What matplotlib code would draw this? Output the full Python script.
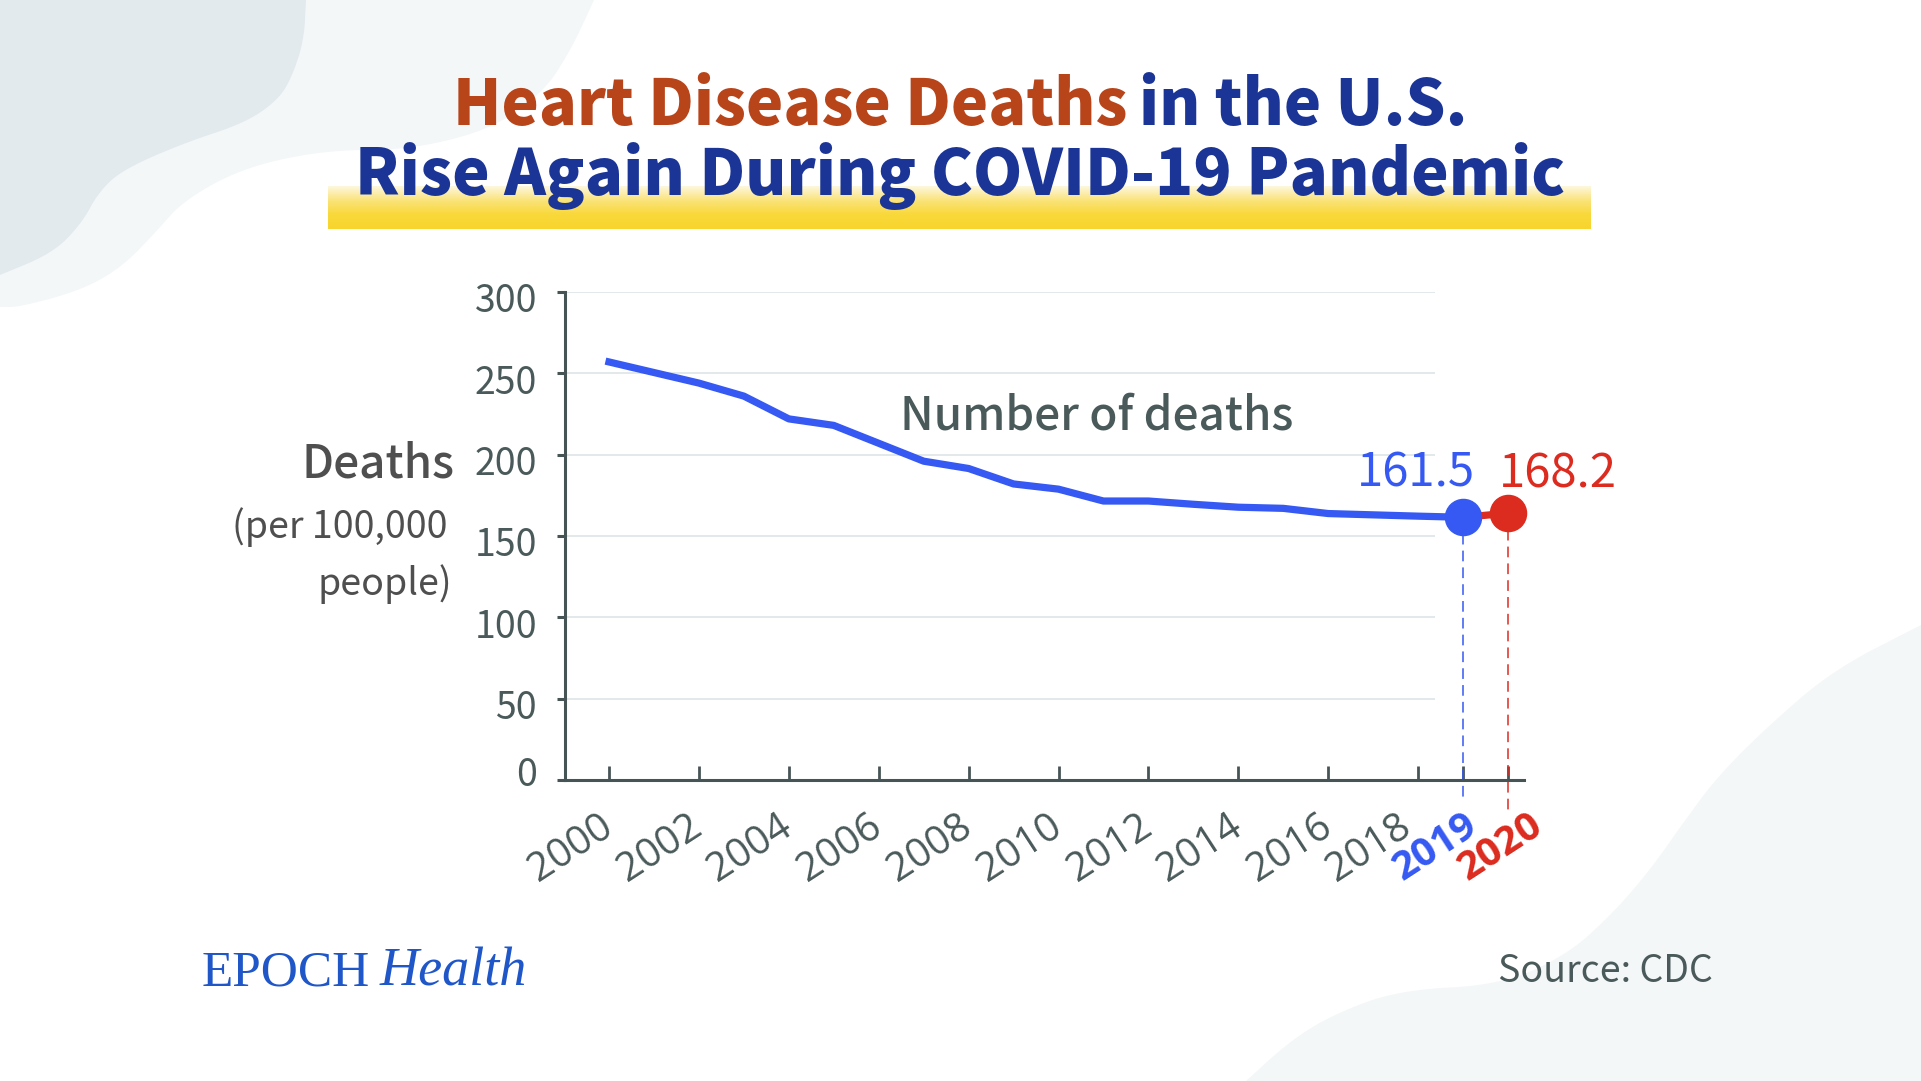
import numpy as np
import matplotlib
matplotlib.use("Agg")
import matplotlib.pyplot as plt
import matplotlib.transforms as mtransforms
from matplotlib.patches import Polygon
from matplotlib.colors import LinearSegmentedColormap

# data
years = list(range(2000, 2021))
deaths = [257, 250.5, 244, 236, 222, 218, 207, 196, 191.5, 182, 178.8,
          171.5, 171.5, 169.5, 167.7, 167, 163.8, 163, 162.2, 161.5, 164]
tick_years = [2000, 2002, 2004, 2006, 2008, 2010, 2012, 2014, 2016, 2018, 2019, 2020]
y_ticks = [0, 50, 100, 150, 200, 250, 300]
value_labels = ["161.5", "168.2"]

title_part1 = "Heart Disease Deaths"
title_part2 = "in the U.S."
title_line2 = "Rise Again During COVID-19 Pandemic"

BLUE = "#3559f2"
RED = "#dc2b1f"
ORANGE = "#b8441a"
NAVY = "#1b3597"
GRAY = "#4a5959"
AXIS = "#465456"
CJK = "Noto Sans CJK JP"

W, H = 1921, 1081
fig = plt.figure(figsize=(W / 100, H / 100), dpi=100)
fig.patch.set_facecolor("white")

# background layer in pixel coordinates (y down)
bg = fig.add_axes([0, 0, 1, 1])
bg.axis("off")


def chaikin(pts, it=4):
    pts = np.asarray(pts, float)
    for _ in range(it):
        q = 0.75 * pts[:-1] + 0.25 * pts[1:]
        r = 0.25 * pts[:-1] + 0.75 * pts[1:]
        new = np.empty((2 * len(q), 2))
        new[0::2] = q
        new[1::2] = r
        pts = np.vstack([pts[0], new, pts[-1]])
    return pts


light_curve = [(594, 0), (571, 50), (543, 93), (490, 130), (408, 150), (327, 150),
               (245, 167), (184, 200), (155, 233), (122, 267), (82, 290), (20, 307), (0, 307)]
dark_curve = [(306, 0), (304, 40), (292, 77), (278, 100), (245, 123), (184, 143),
              (122, 170), (98, 193), (82, 223), (53, 253), (0, 275)]
br_curve = [(1921, 625), (1833, 670), (1767, 727), (1717, 777), (1683, 823), (1650, 870),
            (1613, 913), (1567, 955), (1500, 985), (1400, 990), (1336, 1013), (1291, 1040),
            (1246, 1081)]

bg.add_patch(Polygon(np.vstack([[0, 0], chaikin(light_curve)]), closed=True,
                     facecolor="#f4f7f8", edgecolor="none"))
bg.add_patch(Polygon(np.vstack([[0, 0], chaikin(dark_curve)]), closed=True,
                     facecolor="#e2eaee", edgecolor="none"))
bg.add_patch(Polygon(np.vstack([chaikin(br_curve), [1921, 1081]]), closed=True,
                     facecolor="#f4f7f8", edgecolor="none"))

# yellow highlight band under the second title line
ycmap = LinearSegmentedColormap.from_list("band", ["#fdf8dc", "#fae37a", "#f9d83a", "#f8d52c"])
grad = np.linspace(0, 1, 100)[:, None]
bg.imshow(grad, cmap=ycmap, extent=(328, 1591, 229, 186), aspect="auto", zorder=1)
bg.set_xlim(0, W)
bg.set_ylim(H, 0)

renderer = fig.canvas.get_renderer()


def width_of(t):
    return t.get_window_extent(renderer).width


# title, line 1 (two colours), centred at x=960
fs = 54
t1 = bg.text(0, 125, title_part1, fontsize=fs, family=CJK, weight="heavy", color=ORANGE,
             ha="left", va="baseline", zorder=3)
t2 = bg.text(0, 125, title_part2, fontsize=fs, family=CJK, weight="heavy", color=NAVY,
             ha="left", va="baseline", zorder=3)
gap = 0.18 * fs * 100 / 72
total = width_of(t1) + width_of(t2) + gap
scale = 1014 / total
fs1 = fs * scale
t1.set_fontsize(fs1)
t2.set_fontsize(fs1)
gap = 0.18 * fs1 * 100 / 72
w1 = width_of(t1)
total = w1 + width_of(t2) + gap
x0 = 960 - total / 2
t1.set_x(x0)
t2.set_x(x0 + w1 + gap)

t3 = bg.text(960, 195, title_line2, fontsize=fs, family=CJK, weight="heavy", color=NAVY,
             ha="center", va="baseline", zorder=3)
t3.set_fontsize(fs * 1211 / width_of(t3))

# y-axis title
bg.text(455, 478, "Deaths", fontsize=33, family=CJK, weight="medium", color="#4f4f4f",
        ha="right", va="baseline")
bg.text(447, 538, "(per 100,000", fontsize=27, family=CJK, color="#4f4f4f",
        ha="right", va="baseline")
bg.text(452, 595, "people)", fontsize=27, family=CJK, color="#4f4f4f",
        ha="right", va="baseline")

# footer
bg.text(1498, 982, "Source: CDC", fontsize=27, family=CJK, color=GRAY,
        ha="left", va="baseline")
bg.text(202, 985, "EPOCH", fontsize=37, family="Liberation Serif", color="#1f56c8",
        ha="left", va="baseline")
bg.text(380, 985, "Health", fontsize=39, family="Liberation Serif", style="italic",
        color="#1f56c8", ha="left", va="baseline")

# chart axes
ax = fig.add_axes([565 / W, 1 - 780 / H, (1524 - 565) / W, (780 - 292) / H])
ax.patch.set_alpha(0)
px_year = 44.95
x_first = 609
xlo = 2000 - (x_first - 565) / px_year
xhi = 2000 + (1524 - x_first) / px_year
ax.set_xlim(xlo, xhi)
ax.set_ylim(0, 300)
for s in ["top", "right"]:
    ax.spines[s].set_visible(False)
for s in ["left", "bottom"]:
    ax.spines[s].set_color(AXIS)
    ax.spines[s].set_linewidth(2.2)

ax.set_yticks(y_ticks)
ax.tick_params(axis="y", direction="out", length=6, width=2.2, color=AXIS, labelleft=False)
ax.set_xticks(tick_years)
ax.tick_params(axis="x", direction="in", length=10, width=2.0, color=AXIS, labelbottom=False)

grid_end = 2000 + (1435 - x_first) / px_year
ax.hlines(y_ticks[1:], xlo, grid_end, color="#e1e7e8", lw=1.3, zorder=0)

# y tick labels
ylab_tr = mtransforms.blended_transform_factory(ax.transAxes, ax.transData)
for v in y_ticks:
    dy = 4 if v == 0 else -10
    tr = ylab_tr + mtransforms.ScaledTranslation(-28 / 100, dy / 100, fig.dpi_scale_trans)
    ax.text(0, v, str(v), transform=tr, ha="right", va="center", fontsize=27,
            family=CJK, color=GRAY)

# x tick labels
label_dx = {2018: -22, 2019: 0, 2020: 20}
for yr in tick_years:
    dx = label_dx.get(yr, -11)
    tr = ax.transData + mtransforms.ScaledTranslation(dx / 100, -26 / 100, fig.dpi_scale_trans)
    if yr == 2019:
        c, w = BLUE, "bold"
    elif yr == 2020:
        c, w = RED, "bold"
    else:
        c, w = GRAY, "normal"
    ax.text(yr, 0, str(yr), transform=tr, rotation=33, rotation_mode="anchor",
            ha="right", va="top", fontsize=29, family="Open Sans", color=c, weight=w)

# series
ax.plot(years[:-1], deaths[:-1], color=BLUE, lw=5.2, solid_joinstyle="round", zorder=3)
ax.plot(years[-2:], deaths[-2:], color=RED, lw=5.2, zorder=3)
ax.plot([years[-2], years[-2]], [deaths[-2], -13.5], color=BLUE, lw=1.1,
        dashes=(7, 4), clip_on=False, zorder=2)
ax.plot([years[-1], years[-1]], [deaths[-1], -20], color=RED, lw=1.1,
        dashes=(7, 4), clip_on=False, zorder=2)
ax.plot(years[-2], deaths[-2], "o", ms=26, color=BLUE, zorder=5, clip_on=False)
ax.plot(years[-1], deaths[-1], "o", ms=26, color=RED, zorder=5, clip_on=False)

ax.annotate(value_labels[0], (years[-2], deaths[-2]), xytext=(-47 * 0.72, 31 * 0.72),
            textcoords="offset points", ha="center", va="baseline", fontsize=34,
            family=CJK, color=BLUE)
ax.annotate(value_labels[1], (years[-1], deaths[-1]), xytext=(50 * 0.72, 26 * 0.72),
            textcoords="offset points", ha="center", va="baseline", fontsize=34,
            family=CJK, color=RED)

ax.text(2000 + (1097 - x_first) / px_year, 224, "Number of deaths", ha="center",
        va="center", fontsize=33, family=CJK, weight="medium", color=GRAY)

fig.savefig("out.png", dpi=100)
